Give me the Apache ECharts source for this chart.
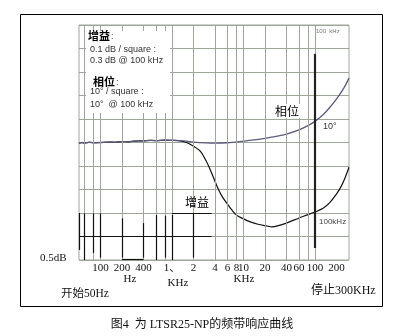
<!DOCTYPE html>
<html><head><meta charset="utf-8">
<script src="https://cdn.jsdelivr.net/npm/echarts@6/dist/echarts.min.js"></script>
<style>html,body{margin:0;padding:0;background:#fff}#c{width:397px;height:336px}</style>
</head><body><div id="c"></div>
<script>
// frequency (Hz) grid lines (log scale)
const gridFreqs = [60, 80, 100, 200, 400, 600, 800, 1000, 2000, 4000, 6000, 8000, 10000, 20000, 40000, 60000, 80000, 100000];
// x tick labels
const tickValues = [100, 200, 400, 1000, 2000, 4000, 6000, 8000, 10000, 20000, 40000, 60000, 100000, 200000];
const tickLabels = ['100', '200', '400', '1、', '2', '4', '6', '8', '10', '20', '40', '60', '100', '200'];
// y in grid squares (gain 0.1 dB/square, phase 10°/square)
const phaseFreq = [50, 55, 60, 70, 80, 100, 130, 160, 200, 250, 300, 400, 500, 600, 800, 1000, 1300, 1600, 2000, 3000, 4000, 6000, 10000, 15000, 20000, 30000, 40000, 60000, 80000, 100000, 130000, 160000, 200000, 250000, 300000];
const phaseVal = [4.96, 5.0, 4.97, 5.01, 4.99, 5.0, 5.02, 5.01, 5.04, 5.03, 5.06, 5.07, 5.09, 5.08, 5.1, 5.09, 5.08, 5.06, 5.02, 4.98, 4.97, 4.99, 5.06, 5.12, 5.18, 5.27, 5.36, 5.54, 5.72, 5.9, 6.18, 6.48, 6.85, 7.28, 7.74];
const gainFreq = [50, 55, 60, 70, 80, 100, 130, 160, 200, 250, 300, 400, 500, 600, 800, 1000, 1300, 1600, 2000, 2500, 3000, 3500, 4300, 5000, 5800, 7000, 8000, 10000, 12500, 16000, 21000, 25000, 30000, 40000, 60000, 80000, 100000, 130000, 160000, 200000, 230000, 260000, 300000];
const gainVal = [4.96, 5.0, 4.97, 5.01, 4.99, 5.0, 5.02, 5.01, 5.04, 5.03, 5.06, 5.07, 5.09, 5.08, 5.1, 5.09, 5.07, 5.0, 4.84, 4.62, 4.22, 3.78, 3.12, 2.72, 2.43, 2.1, 1.91, 1.75, 1.62, 1.52, 1.45, 1.41, 1.45, 1.57, 1.79, 1.93, 2.04, 2.2, 2.43, 2.8, 3.1, 3.45, 3.95];
// dark stray lines in the lower-left of the scanned grid
const darkFreqs = [50, 60, 80, 100, 200, 400, 600, 800, 1000, 2000];
const darkTop = [2.0, 1.98, 1.98, 1.98, 1.77, 1.57, 1.92, 1.88, 1.92, 1.98];
const darkBottom = [0.43, 0.0, 0.3, 0.1, 0.1, 0.1, 0.0, 0.1, 0.0, 0.1];
const darkHoriz = [[50, 3600, 1.0], [1000, 3600, 2.0], [200, 400, 0.05]];
// 100 kHz marker
const markerFreq = 100000, markerTop = 8.77, markerBottom = 0.51;

const gridColor = '#9ea69a';
const serif = '"Liberation Serif","DejaVu Serif","Noto Sans CJK SC",serif';
const cjk = '"Noto Sans CJK SC","Liberation Sans",sans-serif';
const sans = '"Liberation Sans",Arial,sans-serif';

const zip = (a, b) => a.map((v, i) => [v, b[i]]);

const chart = echarts.init(document.getElementById('c'), null, {renderer: 'canvas'});
const option = {
  animation: false,
  backgroundColor: '#fff',
  grid: {left: 79, top: 25, width: 270, height: 235, show: true, borderColor: gridColor, borderWidth: 1, backgroundColor: 'transparent'},
  xAxis: {
    type: 'log', logBase: 10, min: 50, max: 300000,
    axisLine: {show: false}, axisTick: {show: false}, splitLine: {show: false},
    axisLabel: {
      customValues: tickValues,
      formatter: function (v) {
        let best = 0, bd = Infinity;
        tickValues.forEach((t, i) => { const d = Math.abs(Math.log10(t) - Math.log10(v)); if (d < bd) { bd = d; best = i; } });
        return tickLabels[best];
      },
      fontFamily: serif, fontSize: 11, color: '#111', margin: 3
    }
  },
  yAxis: {
    type: 'value', min: 0, max: 10, interval: 1,
    axisLine: {show: false}, axisTick: {show: false}, axisLabel: {show: false},
    splitLine: {show: true, lineStyle: {color: gridColor, width: 1}}
  },
  series: [
    {
      type: 'line', data: [[50, 5]], symbol: 'none', lineStyle: {opacity: 0}, z: 1, silent: true,
      markLine: {
        silent: true, symbol: ['none', 'none'], label: {show: false},
        lineStyle: {color: gridColor, width: 1, type: 'solid'},
        data: gridFreqs.map(f => ({xAxis: f}))
      }
    },
    {
      type: 'line', data: [[50, 5]], symbol: 'none', lineStyle: {opacity: 0}, z: 2, silent: true,
      markLine: {
        silent: true, symbol: ['none', 'none'], label: {show: false},
        lineStyle: {color: '#111', width: 1.2, type: 'solid'},
        data: darkFreqs.map((f, i) => [{coord: [f, darkTop[i]]}, {coord: [f, darkBottom[i]]}])
          .concat(darkHoriz.map(h => [{coord: [h[0], h[2]]}, {coord: [h[1], h[2]]}]))
          .concat([[{coord: [markerFreq, markerTop], lineStyle: {width: 2.2, color: '#222'}}, {coord: [markerFreq, markerBottom]}]])
      }
    },
    {
      name: '增益', type: 'line', data: zip(gainFreq, gainVal), symbol: 'none', smooth: 0.3,
      lineStyle: {color: '#111', width: 1.2}, z: 3
    },
    {
      name: '相位', type: 'line', data: zip(phaseFreq, phaseVal), symbol: 'none', smooth: 0.3,
      lineStyle: {color: '#5c5a7c', width: 1.3}, z: 4
    }
  ],
  graphic: [
    {type: 'rect', z: 100, shape: {x: 20.5, y: 14.5, width: 362, height: 292}, style: {fill: 'none', stroke: '#000', lineWidth: 1}},
    {type: 'rect', z: 100, shape: {x: 86, y: 31, width: 84, height: 82}, style: {fill: '#fff'}},
    {type: 'text', z: 101, x: 88, y: 36, style: {text: '增益', font: 'bold 11px ' + cjk, fill: '#000', verticalAlign: 'middle'}},
    {type: 'text', z: 101, x: 111, y: 37, style: {text: ':', fontSize: 9, fontFamily: sans, fill: '#333', verticalAlign: 'middle'}},
    {type: 'text', z: 101, x: 90, y: 49.5, style: {text: '0.1 dB / square :', fontSize: 9, fontFamily: sans, fill: '#333', verticalAlign: 'middle'}},
    {type: 'text', z: 101, x: 90, y: 60.5, style: {text: '0.3 dB @ 100 kHz', fontSize: 9, fontFamily: sans, fill: '#333', verticalAlign: 'middle'}},
    {type: 'text', z: 101, x: 93, y: 81.5, style: {text: '相位', font: 'bold 11px ' + cjk, fill: '#000', verticalAlign: 'middle'}},
    {type: 'text', z: 101, x: 116, y: 82.5, style: {text: ':', fontSize: 9, fontFamily: sans, fill: '#333', verticalAlign: 'middle'}},
    {type: 'text', z: 101, x: 90, y: 91.5, style: {text: '10° / square :', fontSize: 9, fontFamily: sans, fill: '#333', verticalAlign: 'middle'}},
    {type: 'text', z: 101, x: 90, y: 104.5, style: {text: '10°  @ 100 kHz', fontSize: 9, fontFamily: sans, fill: '#333', verticalAlign: 'middle'}},
    {type: 'text', z: 101, x: 316, y: 31, style: {text: '100  kHz', fontSize: 6, fontFamily: sans, fill: '#777', verticalAlign: 'middle'}},
    {type: 'text', z: 101, x: 287, y: 111, style: {text: '相位', fontSize: 12, fontFamily: cjk, fill: '#000', align: 'center', verticalAlign: 'middle', backgroundColor: '#fff', padding: [1, 2, 1, 2]}},
    {type: 'text', z: 101, x: 322, y: 127, style: {text: '10°', fontSize: 9, fontFamily: sans, fill: '#333', verticalAlign: 'middle', backgroundColor: '#fff', padding: [0, 1, 0, 1]}},
    {type: 'text', z: 101, x: 197, y: 202, style: {text: '增益', fontSize: 12, fontFamily: cjk, fill: '#000', align: 'center', verticalAlign: 'middle'}},
    {type: 'text', z: 101, x: 319, y: 222, style: {text: '100kHz', fontSize: 8, fontFamily: sans, fill: '#444', verticalAlign: 'middle', backgroundColor: '#fff'}},
    {type: 'text', z: 101, x: 40, y: 258, style: {text: '0.5dB', fontSize: 11, fontFamily: serif, fill: '#111', verticalAlign: 'middle'}},
    {type: 'text', z: 101, x: 130, y: 279, style: {text: 'Hz', fontSize: 11, fontFamily: serif, fill: '#111', align: 'center', verticalAlign: 'middle'}},
    {type: 'text', z: 101, x: 178, y: 283, style: {text: 'KHz', fontSize: 11, fontFamily: serif, fill: '#111', align: 'center', verticalAlign: 'middle'}},
    {type: 'text', z: 101, x: 244, y: 279, style: {text: 'KHz', fontSize: 11, fontFamily: serif, fill: '#111', align: 'center', verticalAlign: 'middle'}},
    {type: 'text', z: 101, x: 61, y: 294, style: {text: '开始50Hz', fontSize: 11.5, fontFamily: serif, fill: '#111', verticalAlign: 'middle'}},
    {type: 'text', z: 101, x: 311, y: 291, style: {text: '停止300KHz', fontSize: 12, fontFamily: serif, fill: '#111', verticalAlign: 'middle'}},
    {type: 'text', z: 101, x: 202, y: 325, style: {text: '图4  为 LTSR25-NP的频带响应曲线', fontSize: 12, fontFamily: serif, fill: '#111', align: 'center', verticalAlign: 'middle'}}
  ]
};
chart.setOption(option);
</script>
</body></html>
